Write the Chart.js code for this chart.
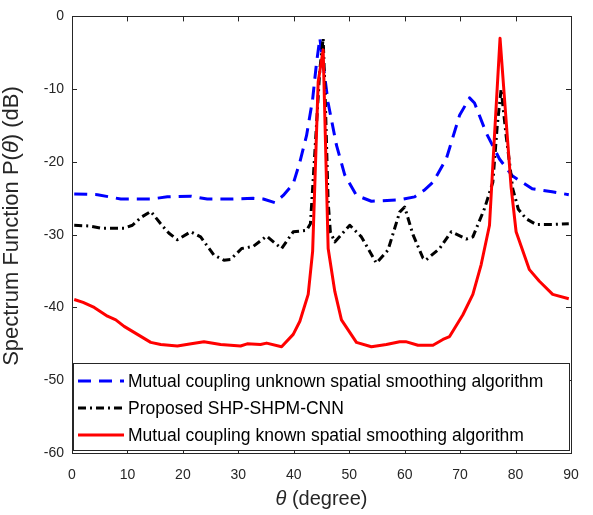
<!DOCTYPE html>
<html>
<head>
<meta charset="utf-8">
<script src="https://cdn.jsdelivr.net/npm/chart.js@4.4.1/dist/chart.umd.min.js"></script>
<style>
    body{ margin:0; background:#fff; }
    #wrap{ width:593px; height:515px; }
</style>
</head>
<body>
<div id="wrap"><canvas id="spectrumChart" width="593" height="515"></canvas></div>
<script>
// data (theta in degree, spectrum in dB)
let unknownTheta = [0.4, 4.6, 8.8, 14.2, 17.2, 21.4, 24.4, 29.1, 32.7, 34.5, 36.6, 38.1, 39.9, 41.1, 42.3, 43.4, 44.1, 44.7, 46.2, 47.7, 49.2, 51.3, 54, 59.1, 61.8, 63.5, 65.1, 67.5, 69.9, 71.7, 72.6, 74.7, 77.1, 79.4, 83, 86.6, 89.6];
let unknownDb = [-24.4, -24.5, -25.1, -25.1, -24.8, -24.7, -25.1, -25.1, -25.0, -25.1, -25.6, -24.6, -23.0, -20.0, -16.4, -11.4, -6.4, -3.0, -11.9, -17.7, -21.8, -24.6, -25.4, -25.2, -24.8, -23.9, -22.8, -19.6, -13.6, -11.2, -11.9, -16.0, -19.6, -21.9, -23.7, -24.1, -24.5];

let proposedTheta = [0.4, 3, 5.2, 9.4, 10.9, 12.5, 14.2, 16, 17.5, 19, 21.4, 23.2, 25.6, 27.4, 28.6, 30.6, 32.7, 35.1, 37.8, 39.9, 42.3, 43.0, 43.8, 44.7, 45.3, 45.7, 46.2, 46.6, 47.4, 50.1, 52.2, 54.9, 57, 59.1, 60, 61.5, 63.3, 63.8, 66.3, 68.4, 71.1, 72.3, 74.4, 75.9, 76.7, 77.4, 78.3, 79.5, 80.5, 81.9, 83.7, 86.6, 89.6];
let proposedDb = [-28.7, -28.8, -29.1, -29.1, -28.7, -27.6, -26.8, -28.5, -29.8, -30.7, -29.6, -30.3, -32.8, -33.5, -33.4, -31.9, -31.6, -30.2, -31.9, -29.6, -29.4, -28.5, -18.7, -7.3, -3.0, -12.0, -25.5, -29.6, -31.0, -28.7, -30.3, -33.9, -32.1, -26.9, -26.2, -30.0, -33.2, -33.5, -31.9, -29.6, -30.6, -30.3, -26.4, -22.8, -15.0, -10.0, -16.4, -23.7, -26.5, -27.8, -28.6, -28.6, -28.5];

let knownTheta = [0.4, 2, 4, 6.4, 7.9, 9.4, 11.8, 14.2, 16, 19, 21.5, 23.8, 26.8, 30.4, 31.6, 34, 35.1, 37.8, 39.9, 41.1, 42.6, 43.4, 44.4, 45.3, 46.2, 47.4, 48.6, 51.3, 54, 56.7, 59.1, 60.2, 62.4, 65.1, 66.9, 68.1, 70.5, 72.3, 73.8, 75.3, 76.2, 77.2, 78.5, 79.2, 80.1, 82.5, 84.3, 86.7, 89.6];
let knownDb = [-38.9, -39.3, -40.0, -41.2, -41.7, -42.6, -43.7, -44.8, -45.1, -45.3, -45.0, -44.7, -45.1, -45.3, -45.0, -45.1, -44.9, -45.4, -43.7, -41.9, -38.2, -32.3, -9.0, -4.6, -31.9, -37.8, -41.7, -44.8, -45.4, -45.1, -44.7, -44.7, -45.2, -45.2, -44.4, -44.0, -41.0, -38.2, -34.1, -28.7, -16.4, -3.0, -16.4, -23.5, -29.6, -34.8, -36.4, -38.2, -38.8];

let seriesNames = ['Mutual coupling unknown spatial smoothing algorithm', 'Proposed SHP-SHPM-CNN', 'Mutual coupling known spatial smoothing algorithm'];

let axisColor = '#262626';
let fontFamily = '"Liberation Sans", Arial, sans-serif';

function toPoints(xs, ys){
    let pts = [];
    for(let i = 0; i < xs.length; i++){
        pts.push({x : xs[i], y : ys[i]});
    }
    return pts;
}

// box, inside ticks on all four sides, axis titles and the legend inside the plot
let matlabAxes = {
    id : 'matlabAxes',
    afterDatasetsDraw(chart){
        let ctx = chart.ctx;
        let area = chart.chartArea;
        let xs = chart.scales.x;
        let ys = chart.scales.y;
        let tick = 5;

        ctx.save();
        ctx.strokeStyle = axisColor;
        ctx.lineWidth = 1;
        ctx.beginPath();
        xs.ticks.forEach(t => {
            let px = Math.round(xs.getPixelForValue(t.value)) + 0.5;
            ctx.moveTo(px, area.bottom); ctx.lineTo(px, area.bottom - tick);
            ctx.moveTo(px, area.top); ctx.lineTo(px, area.top + tick);
        });
        ys.ticks.forEach(t => {
            let py = Math.round(ys.getPixelForValue(t.value)) + 0.5;
            ctx.moveTo(area.left, py); ctx.lineTo(area.left + tick, py);
            ctx.moveTo(area.right, py); ctx.lineTo(area.right - tick, py);
        });
        ctx.stroke();

        // legend
        let boxL = 73.5, boxT = 363.5, boxR = 569.5, boxB = 450.5;
        ctx.fillStyle = '#ffffff';
        ctx.fillRect(boxL, boxT, boxR - boxL, boxB - boxT);
        ctx.strokeStyle = axisColor;
        ctx.strokeRect(boxL, boxT, boxR - boxL, boxB - boxT);
        let rowY = [381, 408, 435];
        chart.data.datasets.forEach((ds, i) => {
            ctx.save();
            ctx.strokeStyle = ds.borderColor;
            ctx.lineWidth = ds.borderWidth;
            ctx.setLineDash(ds.borderDash || []);
            ctx.beginPath();
            ctx.moveTo(78, rowY[i]);
            ctx.lineTo(124, rowY[i]);
            ctx.stroke();
            ctx.restore();
            ctx.fillStyle = '#000';
            ctx.font = '17.5px ' + fontFamily;
            ctx.textBaseline = 'middle';
            ctx.textAlign = 'left';
            ctx.fillText(ds.label, 128, rowY[i] + 1);
        });

        // outer box
        ctx.strokeStyle = axisColor;
        ctx.strokeRect(Math.round(area.left) + 0.5, Math.round(area.top) + 0.5, Math.round(area.right - area.left), Math.round(area.bottom - area.top));

        // x title: italic theta then (degree)
        ctx.fillStyle = axisColor;
        ctx.textBaseline = 'alphabetic';
        ctx.textAlign = 'left';
        let italic = 'italic 20px ' + fontFamily;
        let upright = '20px ' + fontFamily;
        ctx.font = italic;
        let w1 = ctx.measureText('θ').width;
        ctx.font = upright;
        let w2 = ctx.measureText(' (degree)').width;
        let cx = (area.left + area.right) / 2;
        let x0 = cx - (w1 + w2) / 2;
        ctx.font = italic;
        ctx.fillText('θ', x0, 505);
        ctx.font = upright;
        ctx.fillText(' (degree)', x0 + w1, 505);

        // y title, rotated
        let italicY = 'italic 22px ' + fontFamily;
        let uprightY = '22px ' + fontFamily;
        ctx.translate(18, 226);
        ctx.rotate(-Math.PI / 2);
        let parts = [['Spectrum Function P(', uprightY], ['θ', italicY], [') (dB)', uprightY]];
        let total = 0;
        parts.forEach(p => { ctx.font = p[1]; total += ctx.measureText(p[0]).width; });
        let pos = -total / 2;
        parts.forEach(p => {
            ctx.font = p[1];
            ctx.fillText(p[0], pos, 0);
            pos += ctx.measureText(p[0]).width;
        });
        ctx.restore();
    }
};

let config = {
    type : 'line',
    data : {
        datasets : [{
            label : seriesNames[0],
            data : toPoints(unknownTheta, unknownDb),
            borderColor : '#0000ff',
            borderWidth : 3,
            borderDash : [13, 8],
            order : 3
        }, {
            label : seriesNames[1],
            data : toPoints(proposedTheta, proposedDb),
            borderColor : '#000000',
            borderWidth : 3,
            borderDash : [8, 4, 2, 4],
            order : 2
        }, {
            label : seriesNames[2],
            data : toPoints(knownTheta, knownDb),
            borderColor : '#ff0000',
            borderWidth : 3,
            order : 1
        }]
    },
    options : {
        responsive : false,
        animation : false,
        elements : {
            point : {radius : 0},
            line : {tension : 0, fill : false, borderJoinStyle : 'round'}
        },
        layout : {padding : {left : 0, top : 13, right : 22, bottom : 0}},
        plugins : {
            legend : {display : false},
            tooltip : {enabled : false}
        },
        scales : {
            x : {
                type : 'linear',
                min : 0,
                max : 90,
                grid : {display : false, drawTicks : false},
                border : {display : false},
                ticks : {stepSize : 10, color : axisColor, padding : 14, font : {size : 14, family : fontFamily}, maxRotation : 0},
                afterFit : function(scale){ scale.height = 62; }
            },
            y : {
                min : -60,
                max : 0,
                grid : {display : false, drawTicks : false},
                border : {display : false},
                ticks : {stepSize : 10, color : axisColor, padding : 8, font : {size : 14, family : fontFamily}},
                afterFit : function(scale){ scale.width = 72; }
            }
        }
    },
    plugins : [matlabAxes]
};

let chart = new Chart(document.getElementById('spectrumChart').getContext('2d'), config);
</script>
</body>
</html>
